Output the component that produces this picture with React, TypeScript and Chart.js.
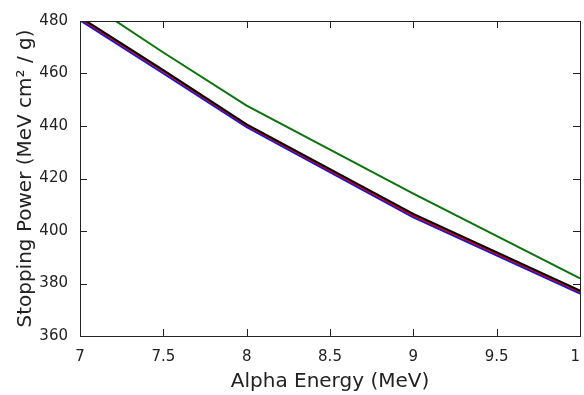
import React, { useEffect, useRef } from "react";
import { Chart, registerables } from "chart.js";

Chart.register(...registerables);

const energies = [7, 7.5, 8, 9, 10];
const blackSeries = [481.5, 461.3, 440.6, 406.5, 377.3];
const redSeries = [481.0, 460.8, 440.2, 405.9, 376.8];
const blueSeries = [480.3, 460.0, 439.6, 405.2, 376.2];
const greenSeries = [489.0, 468.0, 447.8, 414.2, 382.0];
const xTicks = [7, 7.5, 8, 8.5, 9, 9.5, 10];
const yTicks = [360, 380, 400, 420, 440, 460, 480];

const FONT = "'DejaVu Sans', sans-serif";

const frame = {
  id: "frame",
  afterDraw(chart: any) {
    const { ctx, chartArea } = chart;
    const { left, right, top, bottom } = chartArea;
    const xs = chart.scales.x;
    const ys = chart.scales.y;
    const len = 7;
    ctx.save();
    ctx.strokeStyle = "#222";
    ctx.lineWidth = 1;
    ctx.beginPath();
    xs.ticks.forEach((t: any) => {
      const px = Math.round(xs.getPixelForValue(t.value)) + 0.5;
      ctx.moveTo(px, bottom);
      ctx.lineTo(px, bottom - len);
      ctx.moveTo(px, top);
      ctx.lineTo(px, top + len);
    });
    ys.ticks.forEach((t: any) => {
      const py = Math.round(ys.getPixelForValue(t.value)) + 0.5;
      ctx.moveTo(left, py);
      ctx.lineTo(left + len, py);
      ctx.moveTo(right, py);
      ctx.lineTo(right - len, py);
    });
    ctx.stroke();
    ctx.strokeRect(Math.round(left) + 0.5, Math.round(top) + 0.5, Math.round(right - left), Math.round(bottom - top));
    ctx.restore();
  },
};

export default function App() {
  const ref = useRef<HTMLCanvasElement | null>(null);
  useEffect(() => {
    if (!ref.current) return;
    const mk = (label: string, data: number[], color: string) => ({
      label,
      data: energies.map((x, i) => ({ x, y: data[i] })),
      borderColor: color,
      backgroundColor: color,
      borderWidth: 2,
      pointRadius: 0,
      tension: 0,
      fill: false,
    });
    const chart = new Chart(ref.current, {
      type: "line",
      data: {
        datasets: [
          mk("green", greenSeries, "#0c720c"),
          mk("black", blackSeries, "#000000"),
          mk("red", redSeries, "#c80000"),
          mk("blue", blueSeries, "#1a14d6"),
        ],
      },
      options: {
        responsive: false,
        animation: false,
        layout: { padding: { top: 11, right: 40, bottom: 0, left: 0 } },
        plugins: { legend: { display: false }, tooltip: { enabled: false } },
        scales: {
          x: {
            type: "linear",
            min: 7,
            max: 10,
            afterBuildTicks: (s: any) => {
              s.ticks = xTicks.map((v) => ({ value: v }));
            },
            afterFit: (s: any) => {
              s.height = 59;
            },
            grid: { display: false, drawTicks: false, tickLength: 0 },
            border: { display: false },
            ticks: {
              color: "#222",
              font: { family: FONT, size: 15 },
              padding: 12,
              maxRotation: 0,
              autoSkip: false,
              callback: (v: any) => String(v),
            },
            title: {
              display: true,
              text: "Alpha Energy (MeV)",
              color: "#222",
              font: { family: FONT, size: 20 },
              padding: { top: 0, bottom: 1 },
            },
          },
          y: {
            type: "linear",
            min: 360,
            max: 480,
            afterBuildTicks: (s: any) => {
              s.ticks = yTicks.map((v) => ({ value: v }));
            },
            afterFit: (s: any) => {
              s.width = 80;
            },
            grid: { display: false, drawTicks: false, tickLength: 0 },
            border: { display: false },
            ticks: {
              color: "#222",
              font: { family: FONT, size: 15 },
              padding: 12,
              autoSkip: false,
              callback: (v: any) => String(v),
            },
            title: {
              display: true,
              text: "Stopping Power (MeV cm² / g)",
              color: "#222",
              font: { family: FONT, size: 20 },
              padding: { top: 14, bottom: 0 },
            },
          },
        },
      },
      plugins: [frame],
    });
    return () => chart.destroy();
  }, []);
  return (
    <div
      style={{
        position: "fixed",
        left: 0,
        top: 0,
        width: 581,
        height: 395,
        overflow: "hidden",
        background: "#fff",
      }}
    >
      <canvas ref={ref} width={620} height={395} style={{ display: "block" }} />
    </div>
  );
}
